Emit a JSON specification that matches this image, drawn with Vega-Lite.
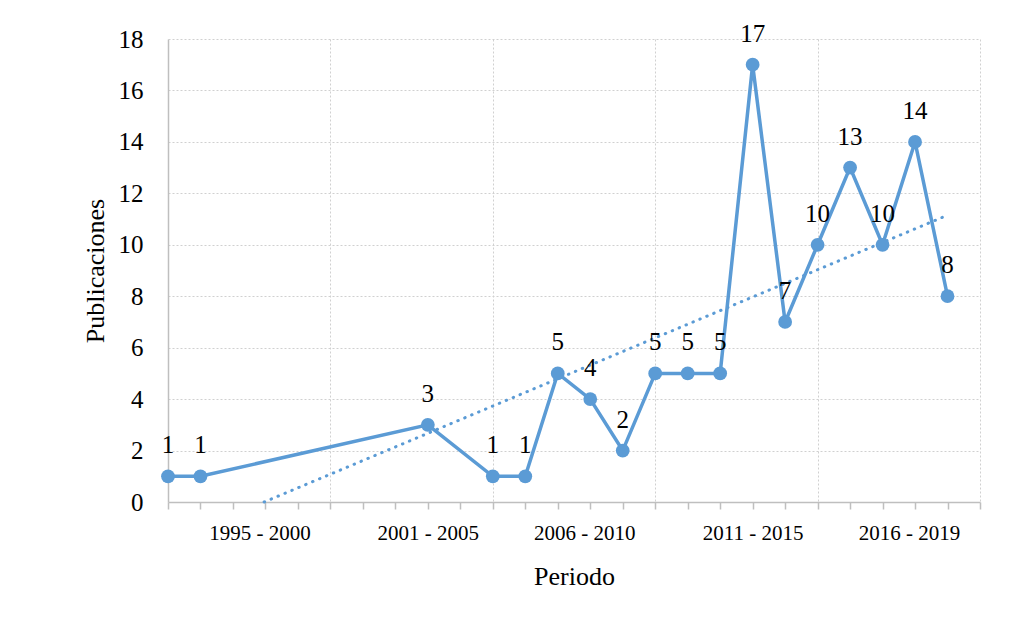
{
  "$schema": "https://vega.github.io/schema/vega-lite/v6.json",
  "autosize": "none",
  "width": 812,
  "height": 463,
  "padding": {"left": 168, "top": 39, "right": 54, "bottom": 123},
  "background": "white",
  "config": {
    "view": {"stroke": null},
    "font": "Liberation Serif",
    "axis": {
      "labelFont": "Liberation Serif",
      "titleFont": "Liberation Serif",
      "labelColor": "black",
      "titleColor": "black",
      "titleFontWeight": "normal",
      "domainColor": "#BFBFBF",
      "domainWidth": 1.5,
      "tickColor": "#BFBFBF",
      "tickWidth": 1.5,
      "gridColor": "#D0D0D0",
      "gridDash": [2, 2],
      "gridWidth": 1
    }
  },
  "datasets": {
    "serie": [
      {"pos": 0, "valor": 1},
      {"pos": 1, "valor": 1},
      {"pos": 8, "valor": 3},
      {"pos": 10, "valor": 1},
      {"pos": 11, "valor": 1},
      {"pos": 12, "valor": 5},
      {"pos": 13, "valor": 4},
      {"pos": 14, "valor": 2},
      {"pos": 15, "valor": 5},
      {"pos": 16, "valor": 5},
      {"pos": 17, "valor": 5},
      {"pos": 18, "valor": 17},
      {"pos": 19, "valor": 7},
      {"pos": 20, "valor": 10},
      {"pos": 21, "valor": 13},
      {"pos": 22, "valor": 10},
      {"pos": 23, "valor": 14},
      {"pos": 24, "valor": 8}
    ],
    "tendencia": [
      {"pos": 2.96, "valor": 0},
      {"pos": 24, "valor": 11.15}
    ]
  },
  "encoding": {
    "x": {
      "field": "pos",
      "type": "quantitative",
      "scale": {"domain": [0, 25], "nice": false, "zero": false},
      "axis": {
        "title": "Periodo",
        "titleFontSize": 26,
        "titlePadding": 20,
        "values": [0,1,2,3,4,5,6,7,8,9,10,11,12,13,14,15,16,17,18,19,20,21,22,23,24,25],
        "tickSize": 7,
        "labelFontSize": 21,
        "labelPadding": 13,
        "labelOverlap": false,
        "labelFlush": false,
        "labelBound": false,
        "labelExpr": "datum.value == 3 ? '1995 - 2000' : datum.value == 8 ? '2001 - 2005' : datum.value == 13 ? '2006 - 2010' : datum.value == 18 ? '2011 - 2015' : datum.value == 23 ? '2016 - 2019' : ''",
        "labelOffset": {"condition": {"test": "datum.value == 3 || datum.value == 23 || datum.value == 13", "value": -6}, "value": 0},
        "grid": true,
        "gridOpacity": {"condition": {"test": "datum.value % 5 === 0 && datum.value > 0", "value": 1}, "value": 0}
      }
    },
    "y": {
      "field": "valor",
      "type": "quantitative",
      "scale": {"domain": [0, 18], "nice": false},
      "axis": {
        "title": "Publicaciones",
        "titleFontSize": 26,
        "titlePadding": 10,
        "values": [0,2,4,6,8,10,12,14,16,18],
        "ticks": false,
        "tickSize": 0,
        "labelFontSize": 25,
        "labelPadding": 25,
        "grid": true,
        "gridOpacity": {"condition": {"test": "datum.value > 0", "value": 1}, "value": 0}
      }
    }
  },
  "layer": [
    {
      "data": {"name": "tendencia"},
      "mark": {"type": "line", "color": "#5B9BD5", "strokeWidth": 3, "strokeDash": [0.5, 7], "strokeCap": "round"}
    },
    {
      "data": {"name": "serie"},
      "mark": {"type": "line", "color": "#5B9BD5", "strokeWidth": 3.5, "point": {"filled": true, "size": 190, "color": "#5B9BD5", "opacity": 1}}
    },
    {
      "data": {"name": "serie"},
      "mark": {"type": "text", "fontSize": 25, "font": "Liberation Serif", "color": "black", "baseline": "middle", "align": "center", "dy": -31},
      "encoding": {"text": {"field": "valor", "type": "quantitative"}}
    }
  ]
}
